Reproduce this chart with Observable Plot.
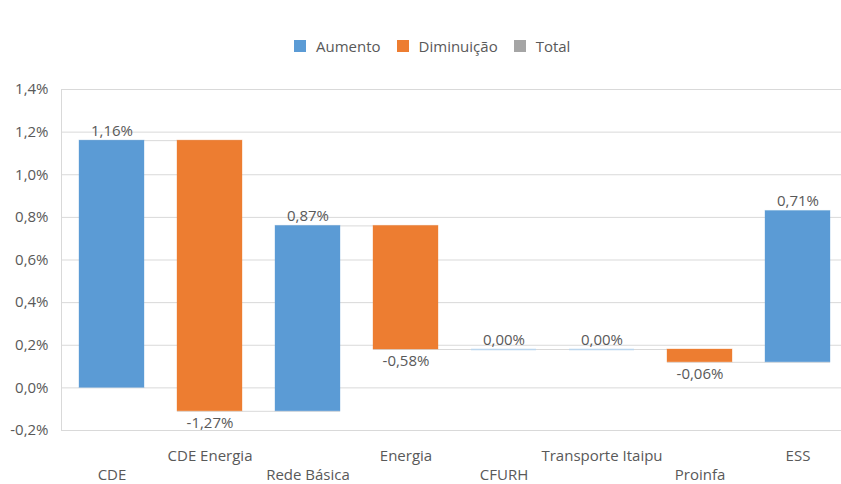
<!DOCTYPE html>
<html>
<head>
<meta charset="utf-8">
<script src="https://cdn.jsdelivr.net/npm/d3@7"></script>
<script src="https://cdn.jsdelivr.net/npm/@observablehq/plot@0.6"></script>
<style>
  body { margin: 0; background: #fff; font-family: "Open Sans", sans-serif; }
  #chart { width: 841px; height: 484px; overflow: hidden; }
  #legend { height: 64px; box-sizing: border-box; padding-top: 29px; padding-left: 294px; }
  .lg-swatch { margin-right: 16px !important; }
  .lg-swatch > svg { margin-right: 10px !important; }
  #plot svg { display: block; }
</style>
</head>
<body>
<div id="chart">
  <div id="legend"></div>
  <div id="plot"></div>
</div>
<script>
// Composição da variação tarifária por componente (em pontos percentuais)
const categories = ["CDE", "CDE Energia", "Rede Básica", "Energia", "CFURH", "Transporte Itaipu", "Proinfa", "ESS"];
const values = [1.16, -1.27, 0.87, -0.58, 0.00, 0.00, -0.06, 0.71];
const seriesNames = ["Aumento", "Diminuição", "Total"];
const seriesColors = ["#5B9BD5", "#ED7D31", "#A5A5A5"];
const yTicks = [-0.2, 0, 0.2, 0.4, 0.6, 0.8, 1.0, 1.2, 1.4];

// Degraus da cascata: cada componente parte do acumulado anterior
let running = 0;
const steps = categories.map((name, i) => {
  const start = running;
  running += values[i];
  return {
    name,
    value: values[i],
    start,
    end: running,
    type: values[i] >= 0 ? "Aumento" : "Diminuição",
    next: categories[i + 1]
  };
});

// Rótulos do eixo X alternados em duas linhas
const upperRow = categories.filter((_, i) => i % 2 === 1);
const lowerRow = categories.filter((_, i) => i % 2 === 0);

const pctAxis = d => d.toFixed(1).replace(".", ",") + "%";
const pctLabel = d => d.toFixed(2).replace(".", ",") + "%";
const textColor = "#595959";
const gridColor = "#d9d9d9";

const legend = Plot.legend({
  color: {type: "categorical", domain: seriesNames, range: seriesColors},
  swatchSize: 12,
  className: "lg",
  style: {fontFamily: "Open Sans", fontSize: "15px", color: textColor}
});
document.getElementById("legend").append(legend);

const chart = Plot.plot({
  width: 841,
  height: 420,
  marginLeft: 61,
  marginRight: 0,
  marginTop: 25,
  marginBottom: 54,
  style: {fontFamily: "Open Sans", fontSize: "15px", color: textColor, background: "white"},
  x: {domain: categories, range: [61, 848], paddingInner: 0.34, paddingOuter: 0.17},
  y: {domain: [-0.2, 1.4]},
  color: {domain: seriesNames, range: seriesColors},
  marks: [
    Plot.gridY(yTicks, {stroke: gridColor, strokeOpacity: 1}),
    Plot.frame({anchor: "left", stroke: gridColor}),
    Plot.axisY(yTicks, {tickSize: 0, tickPadding: 13, tickFormat: pctAxis}),
    Plot.axisX(upperRow, {tickSize: 0, tickPadding: 20}),
    Plot.axisX(lowerRow, {tickSize: 0, tickPadding: 39}),
    // linhas de ligação entre barras consecutivas
    Plot.ruleY(steps.slice(0, -1), {x1: "name", x2: "next", y: "end", stroke: gridColor}),
    Plot.barY(steps, {x: "name", y1: "start", y2: "end", fill: "type", stroke: "type", strokeOpacity: 0.35}),
    // componentes sem variação aparecem como um traço fino
    Plot.ruleY(steps.filter(d => d.value === 0), {x1: "name", x2: "name", y: "end", stroke: "#bdd7ee", strokeWidth: 1.5}),
    Plot.text(steps.filter(d => d.value >= 0), {
      x: "name", y: "end", text: d => pctLabel(d.value),
      lineAnchor: "bottom", dy: -4.5, fill: textColor
    }),
    Plot.text(steps.filter(d => d.value < 0), {
      x: "name", y: "end", text: d => pctLabel(d.value),
      lineAnchor: "top", dy: 6, fill: textColor
    })
  ]
});
document.getElementById("plot").append(chart);
</script>
</body>
</html>
